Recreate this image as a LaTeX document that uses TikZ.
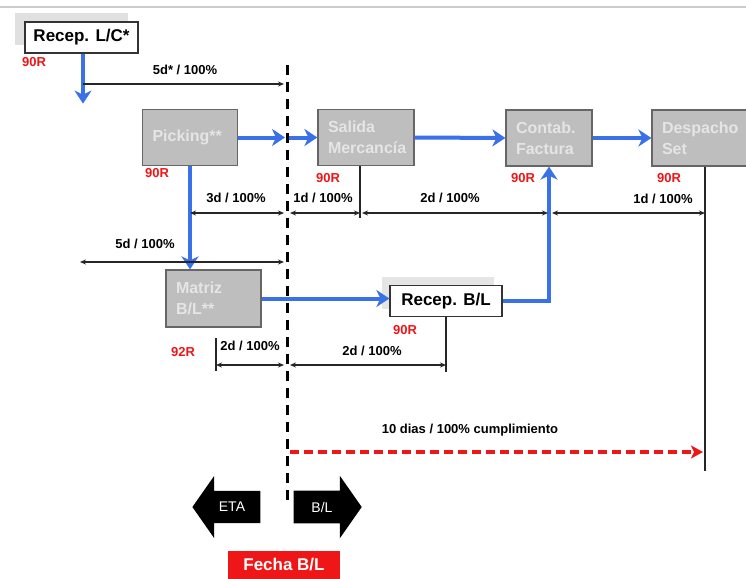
\documentclass[tikz,border=0pt]{standalone}
\usepackage{fontspec}
\setmainfont{Liberation Sans}
\usetikzlibrary{arrows.meta,shapes.arrows}
\definecolor{flowblue}{RGB}{58,112,232}
\definecolor{boxgray}{RGB}{190,190,190}
\definecolor{datered}{RGB}{238,22,22}
\tikzset{
  graybox/.style={draw=black!60, fill=boxgray, line width=1.2pt, text=white!90!black, font=\bfseries\fontsize{16}{21}\selectfont, align=left, inner xsep=10pt, minimum height=56pt},
  whitebox/.style={draw=black!80, fill=white, line width=1.2pt, font=\bfseries\fontsize{17}{19}\selectfont, minimum height=31pt},
  rate/.style={text=datered, font=\bfseries\fontsize{13}{15}\selectfont},
  dim/.style={font=\bfseries\fontsize{13}{15}\selectfont},
  flow/.style={flowblue, line width=4pt, -{Stealth[length=13pt,width=17pt,inset=4pt]}},
  span/.style={black!85, line width=1.2pt, {Stealth[length=6pt,width=5pt]}-{Stealth[length=6pt,width=5pt]}},
  spanone/.style={black!85, line width=1.2pt, -{Stealth[length=6pt,width=5pt]}},
  drop/.style={black!85, line width=1.2pt},
  cutline/.style={black, line width=3pt, dash pattern=on 10pt off 7pt},
  deadline/.style={datered, line width=3.2pt, dash pattern=on 9pt off 5pt, -{Stealth[length=12pt,width=13pt,inset=3pt]}},
  blockarrow/.style={single arrow, fill=black, text=white, font=\fontsize{14}{16}\selectfont, minimum height=68pt, single arrow head extend=15pt, single arrow tip angle=110, inner ysep=11pt, inner xsep=4pt},
}
\begin{document}
\begin{tikzpicture}[x=1pt,y=-1pt]
\useasboundingbox (0,0) rectangle (746,578);
\draw[black!20, line width=1.2pt] (0,7) -- (746,7);
\fill[black!12] (15,13) rectangle (128,45);
\fill[black!10] (382,277) rectangle (494,309);
\node[whitebox, minimum width=113pt] (lc) at (81.5,37.5){Recep. L/C*};
\node[graybox, text width=75pt] (pick) at (190,137.5){Picking**};
\node[graybox, text width=76pt] (sal) at (366,137.5){Salida\\Mercancía};
\node[graybox, text width=66pt] (cont) at (549,138){Contab.\\Factura};
\node[graybox, text width=86pt] (desp) at (705,138){Despacho\\Set};
\node[graybox, text width=75pt, minimum height=57pt] (mat) at (213.5,298.5){Matriz\\B/L**};
\node[whitebox, minimum width=112pt] (rbl) at (446,301){Recep. B/L};
\node[rate] (r1) at (34,62){90R};
\node[rate] (r2) at (157,173){90R};
\node[rate] (r3) at (328,178){90R};
\node[rate] (r4) at (523,178){90R};
\node[rate] (r5) at (669,178){90R};
\node[rate] (r6) at (183,352){92R};
\node[rate] (r7) at (405,330){90R};
\coordinate (ctop) at (287,65);
\coordinate (cbot) at (287,500);
\draw[cutline] (ctop) -- (cbot);
\coordinate (cut1) at (285,137.5);
\coordinate (cut2) at (289,137.5);
\draw[flow] ([xshift=1.5pt]lc.south) -- ++(0,50);
\draw[flow] (pick.east) -- (cut1);
\draw[flow] (cut2) -- (sal.west);
\draw[flow] (sal.east) -- (cont.west);
\draw[flow] (cont.east) -- (desp.west);
\draw[flow] (pick.south) -- (pick.south |- mat.north);
\draw[flow] (mat.east) -- (mat.east -| rbl.west);
\draw[flow] (rbl.east) -| (cont.south);
\coordinate (a0) at (83,84);
\coordinate (a1) at (284,84);
\draw[spanone] (a0) -- (a1);
\node[dim] (l1) at (185,70){5d* / 100\%};
\draw[drop] ([xshift=-6pt]sal.south) -- ++(0,52);
\draw[drop] (desp.south) -- ++(0,304);
\draw[drop] (rbl.south) -- ++(0,55);
\coordinate (b0) at (190,213);
\coordinate (b1) at (284,213);
\coordinate (b2) at (290,213);
\coordinate (b3) at (360,213);
\coordinate (b4) at (362,213);
\coordinate (b5) at (548,213);
\coordinate (b6) at (552,213);
\coordinate (b7) at (705,213);
\draw[span] (b0) -- (b1);
\draw[span] (b2) -- (b3);
\draw[span] (b4) -- (b5);
\draw[span] (b6) -- (b7);
\node[dim] (l2) at (236,198){3d / 100\%};
\node[dim] (l3) at (323,198){1d / 100\%};
\node[dim] (l4) at (450,198){2d / 100\%};
\node[dim] (l5) at (663,199){1d / 100\%};
\coordinate (c0) at (80,262);
\coordinate (c1) at (284,262);
\draw[span] (c0) -- (c1);
\node[dim] (l6) at (145,244){5d / 100\%};
\coordinate (e0) at (216,338);
\coordinate (e1) at (216,365);
\coordinate (e2) at (284,365);
\coordinate (e3) at (290,365);
\draw[drop] (e0) -- ++(0,33);
\draw[span] (e1) -- (e2);
\draw[span] (e3) -- (rbl.south |- e3);
\node[dim] (l7) at (250,346){2d / 100\%};
\node[dim] (l8) at (372,351){2d / 100\%};
\coordinate (t0) at (290,452);
\coordinate (t1) at (703,452);
\draw[deadline] (t0) -- (t1);
\node[dim] (l9) at (470,430){10 dias / 100\% cumplimiento};
\node[blockarrow, shape border rotate=180] (eta) at (232,507){ETA};
\node[blockarrow] (bl) at (322,507){B/L};
\node[fill=datered, text=white, font=\bfseries\fontsize{17}{19}\selectfont, minimum width=112pt, minimum height=28pt] (fecha) at (284,565){Fecha B/L};
\end{tikzpicture}
\end{document}
